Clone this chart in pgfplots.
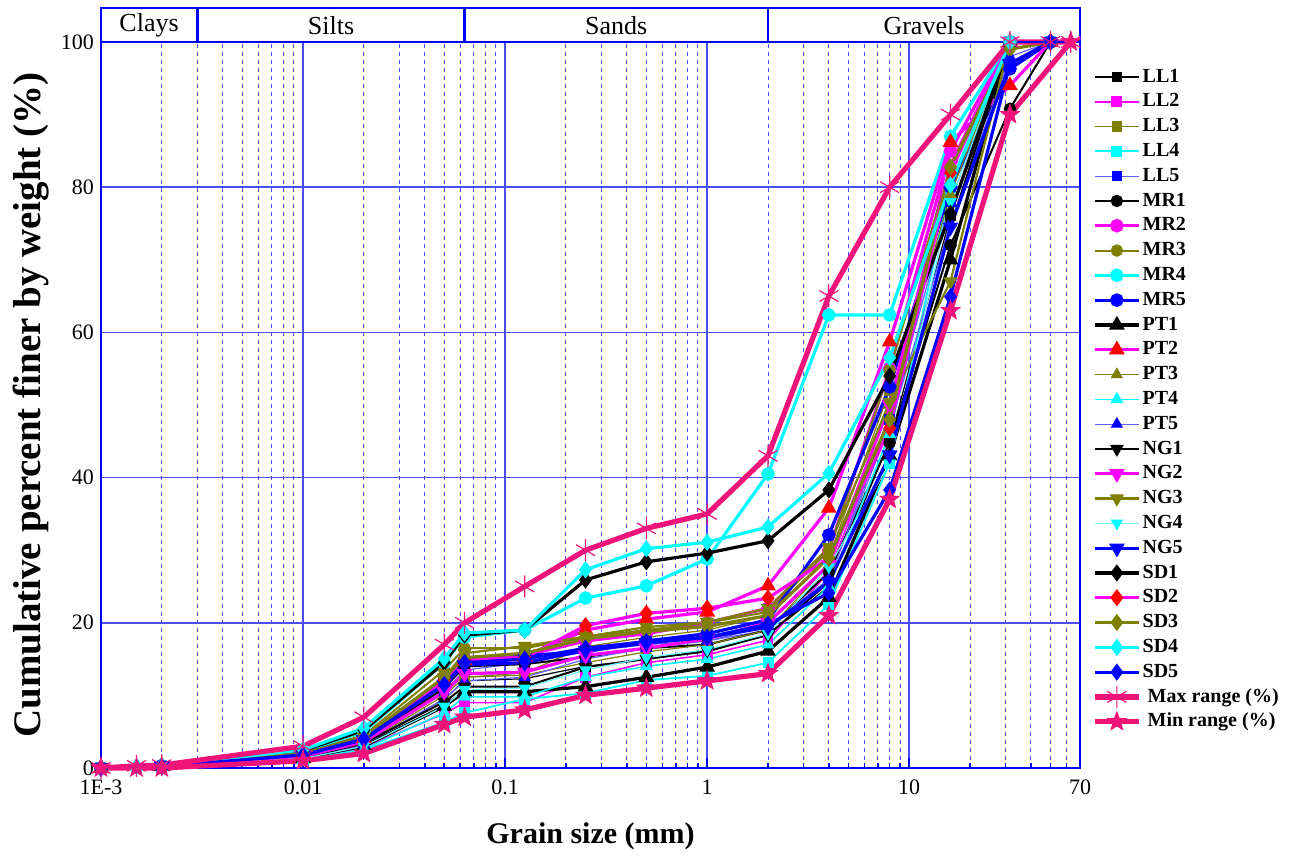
\documentclass[border=0pt]{standalone}
\usepackage{fontspec}
\setmainfont{Liberation Serif}
\usepackage{pgfplots}
\pgfplotsset{compat=1.18}
\definecolor{olv}{HTML}{808000}
\definecolor{cyn}{HTML}{00FFFF}
\definecolor{mag}{HTML}{FF00FF}
\definecolor{blu}{HTML}{0000FF}
\definecolor{rd}{HTML}{FF0000}
\definecolor{rng}{HTML}{F0147A}
\definecolor{grd}{HTML}{4B4BFF}
\definecolor{lblue}{HTML}{6060FF}
\definecolor{lcyan}{HTML}{70FFFF}

% filled five-point star
\pgfdeclareplotmark{fstar}{%
  \pgfpathmoveto{\pgfpointpolar{90}{\pgfplotmarksize}}%
  \pgfpathlineto{\pgfpointpolar{126}{0.42\pgfplotmarksize}}%
  \pgfpathlineto{\pgfpointpolar{162}{\pgfplotmarksize}}%
  \pgfpathlineto{\pgfpointpolar{198}{0.42\pgfplotmarksize}}%
  \pgfpathlineto{\pgfpointpolar{234}{\pgfplotmarksize}}%
  \pgfpathlineto{\pgfpointpolar{270}{0.42\pgfplotmarksize}}%
  \pgfpathlineto{\pgfpointpolar{306}{\pgfplotmarksize}}%
  \pgfpathlineto{\pgfpointpolar{342}{0.42\pgfplotmarksize}}%
  \pgfpathlineto{\pgfpointpolar{18}{\pgfplotmarksize}}%
  \pgfpathlineto{\pgfpointpolar{54}{0.42\pgfplotmarksize}}%
  \pgfpathclose\pgfusepathqfillstroke}

\begin{document}
\begin{tikzpicture}
\begin{axis}[
  scale only axis, width=489.5pt, height=363pt,
  xmode=log, xmin=0.001, xmax=70, ymin=0, ymax=100,
  clip=false,
  xtick={0.001,0.01,0.1,1,10,70},
  xticklabels={1E-3,0.01,0.1,1,10,70},
  minor xtick={0.002,0.003,0.004,0.005,0.006,0.007,0.008,0.009,
    0.02,0.03,0.04,0.05,0.06,0.07,0.08,0.09,
    0.2,0.3,0.4,0.5,0.6,0.7,0.8,0.9,
    2,3,4,5,6,7,8,9,20,30,40,50,60},
  ytick={0,20,40,60,80,100},
  xmajorgrids, xminorgrids, ymajorgrids,
  major grid style={grd, line width=0.85pt},
  minor grid style={grd, line width=0.5pt, dash pattern=on 2pt off 2pt},
  axis line style={blu, line width=1.2pt},
  tick style={blu, line width=0.8pt},
  major tick length=5pt, minor tick length=2.5pt,
  tick align=inside, tick pos=left,
  ytick style={draw=none},
  ticklabel style={font=\fontsize{11}{11}\selectfont},
  xticklabel style={yshift=-2.5pt},
  /pgf/number format/assume math mode=true,
  xlabel={\bfseries Grain size (mm)},
  ylabel={\bfseries Cumulative percent finer by weight (\%)},
  xlabel style={font=\fontsize{15}{15}\selectfont, yshift=-7pt},
  ylabel style={font=\fontsize{19.5}{19.5}\selectfont, yshift=-1pt},
  legend style={at={(1.006,0.975)}, anchor=north west, draw=none, fill=none,
    font=\fontsize{10}{10}\selectfont\bfseries, row sep=0pt,
    nodes={inner sep=0.6pt, text height=8.2pt, text depth=3pt}},
  legend cell align=left,
  legend image code/.code={\draw[mark repeat=2, mark phase=2]
    plot coordinates {(0pt,0pt) (11pt,0pt) (22pt,0pt)};},
]
% LL series
\addplot[black, line width=0.6pt, mark=square*, mark size=2.3pt, mark options={solid}] coordinates {
(0.001,0) (0.002,0.2) (0.01,1.5) (0.02,3.2) (0.05,9.5) (0.063,12) (0.125,12.3) (0.25,14) (0.5,15) (1,16) (2,18.3) (4,25) (8,45) (16,76) (31.5,100) (50,100)};
\addlegendentry{LL1}
\addplot[mag, line width=0.8pt, mark=square*, mark size=2.3pt] coordinates {
(0.001,0) (0.002,0.2) (0.01,1.2) (0.02,2.8) (0.05,7.5) (0.063,9) (0.125,9) (0.25,12.5) (0.5,14.5) (1,15.6) (2,17.6) (4,27) (8,48) (16,85) (31.5,100) (50,100)};
\addlegendentry{LL2}
\addplot[olv, line width=0.6pt, mark=square*, mark size=2.3pt] coordinates {
(0.001,0) (0.002,0.2) (0.01,1.8) (0.02,3.8) (0.05,11) (0.063,12.5) (0.125,13.1) (0.25,16.7) (0.5,18) (1,19) (2,21) (4,29) (8,52) (16,80) (31.5,100) (50,100)};
\addlegendentry{LL3}
\addplot[cyn, line width=0.9pt, mark=square*, mark size=2.3pt] coordinates {
(0.001,0) (0.002,0.1) (0.01,1.0) (0.02,2.5) (0.05,6.3) (0.063,7.6) (0.125,9.5) (0.25,10.3) (0.5,12.1) (1,12.7) (2,14.5) (4,22.5) (8,42) (16,80) (31.5,100) (50,100)};
\addlegendentry{LL4}
\addplot[lblue, line width=0.6pt, mark=square*, mark size=2.3pt, mark options={blu}] coordinates {
(0.001,0) (0.002,0.2) (0.01,1.6) (0.02,3.5) (0.05,10.5) (0.063,13.5) (0.125,14.5) (0.25,16) (0.5,17) (1,17.5) (2,19) (4,26) (8,48) (16,78) (31.5,100) (50,100)};
\addlegendentry{LL5}
% MR series
\addplot[black, line width=1.0pt, mark=*, mark size=2.6pt] coordinates {
(0.001,0) (0.002,0.2) (0.01,1.7) (0.02,3.6) (0.05,11) (0.063,14) (0.125,14.3) (0.25,15.3) (0.5,16.5) (1,17) (2,19) (4,27) (8,44.8) (16,72) (31.5,90.8) (50,100)};
\addlegendentry{MR1}
\addplot[mag, line width=1.6pt, mark=*, mark size=2.6pt] coordinates {
(0.001,0) (0.002,0.3) (0.01,1.9) (0.02,4) (0.05,12) (0.063,15) (0.125,15.5) (0.25,17.5) (0.5,18.5) (1,20) (2,22) (4,30) (8,55) (16,85) (31.5,100) (50,100)};
\addlegendentry{MR2}
\addplot[olv, line width=1.0pt, mark=*, mark size=2.6pt] coordinates {
(0.001,0) (0.002,0.3) (0.01,2.2) (0.02,4.5) (0.05,13.5) (0.063,16.5) (0.125,16.5) (0.25,18) (0.5,19) (1,20) (2,21.5) (4,30) (8,54.8) (16,82.8) (31.5,100) (50,100)};
\addlegendentry{MR3}
\addplot[cyn, line width=1.6pt, mark=*, mark size=2.6pt] coordinates {
(0.001,0) (0.002,0.3) (0.01,2.3) (0.02,5) (0.05,14.5) (0.063,18) (0.125,19) (0.25,23.4) (0.5,25.1) (1,28.8) (2,40.5) (4,62.4) (8,62.4) (16,87) (31.5,100) (50,100)};
\addlegendentry{MR4}
\addplot[blu, line width=1.6pt, mark=*, mark size=2.6pt] coordinates {
(0.001,0) (0.002,0.3) (0.01,2.0) (0.02,4.2) (0.05,12) (0.063,14.8) (0.125,15.5) (0.25,16) (0.5,17.5) (1,18.5) (2,20.4) (4,32.1) (8,52.5) (16,80) (31.5,96.3) (50,100)};
\addlegendentry{MR5}
% PT series
\addplot[black, line width=1.6pt, mark=triangle*, mark size=3pt] coordinates {
(0.001,0) (0.002,0.2) (0.01,1.3) (0.02,3) (0.05,8.5) (0.063,10.5) (0.125,10.5) (0.25,11.2) (0.5,12.5) (1,13.9) (2,16.1) (4,23.5) (8,43) (16,70) (31.5,100) (50,100)};
\addlegendentry{PT1}
\addplot[mag, line width=1.6pt, mark=triangle*, mark size=3pt, mark options={rd}] coordinates {
(0.001,0) (0.002,0.3) (0.01,1.9) (0.02,4.1) (0.05,12) (0.063,14.8) (0.125,15.3) (0.25,19) (0.5,20.5) (1,21.5) (2,25.1) (4,35.8) (8,58.7) (16,86.2) (31.5,94) (50,100)};
\addlegendentry{PT2}
\addplot[olv, line width=0.6pt, mark=triangle*, mark size=3pt] coordinates {
(0.001,0) (0.002,0.2) (0.01,1.5) (0.02,3.3) (0.05,10) (0.063,12.5) (0.125,12.8) (0.25,14.5) (0.5,16) (1,17) (2,19) (4,28) (8,50) (16,79) (31.5,100) (50,100)};
\addlegendentry{PT3}
\addplot[cyn, line width=0.8pt, mark=triangle*, mark size=3pt] coordinates {
(0.001,0) (0.0015,0.1) (0.002,0.2) (0.01,1.1) (0.02,2.6) (0.05,7.6) (0.063,9.8) (0.125,9.8) (0.25,12.5) (0.5,14) (1,15) (2,17) (4,25) (8,46) (16,82) (31.5,100) (50,100)};
\addlegendentry{PT4}
\addplot[lblue, line width=0.6pt, mark=triangle*, mark size=3pt, mark options={blu}] coordinates {
(0.001,0) (0.002,0.2) (0.01,1.4) (0.02,3.2) (0.05,9.5) (0.063,12) (0.125,12.5) (0.25,15) (0.5,16.5) (1,17.5) (2,19.5) (4,26) (8,47) (16,75) (31.5,98) (50,100)};
\addlegendentry{PT5}
% NG series
\addplot[black, line width=1.0pt, mark=triangle*, mark size=3pt, mark options={rotate=180}] coordinates {
(0.001,0) (0.002,0.2) (0.01,1.4) (0.02,3.4) (0.05,9.1) (0.063,11.2) (0.125,11.2) (0.25,13.9) (0.5,15) (1,16.2) (2,18.3) (4,25.6) (8,43.1) (16,74.5) (31.5,100) (50,100)};
\addlegendentry{NG1}
\addplot[mag, line width=1.6pt, mark=triangle*, mark size=3pt, mark options={rotate=180}] coordinates {
(0.001,0) (0.002,0.2) (0.01,1.6) (0.02,3.6) (0.05,10.5) (0.063,13) (0.125,13.2) (0.25,15.5) (0.5,16.5) (1,17.8) (2,20) (4,28) (8,50) (16,83) (31.5,100) (50,100)};
\addlegendentry{NG2}
\addplot[olv, line width=1.1pt, mark=triangle*, mark size=3pt, mark options={rotate=180}] coordinates {
(0.001,0) (0.002,0.3) (0.01,2.0) (0.02,4.3) (0.05,12.5) (0.063,15.8) (0.125,16.8) (0.25,18.1) (0.5,19.4) (1,20.1) (2,22) (4,30.4) (8,50.4) (16,67) (31.5,100) (50,100)};
\addlegendentry{NG3}
\addplot[lcyan, line width=0.6pt, mark=triangle*, mark size=3pt, mark options={cyn, rotate=180}] coordinates {
(0.001,0) (0.002,0.2) (0.01,1.3) (0.02,3) (0.05,8.5) (0.063,10.8) (0.125,11) (0.25,13.5) (0.5,15.2) (1,16.3) (2,18.5) (4,27.7) (8,42) (16,78) (31.5,100) (50,100)};
\addlegendentry{NG4}
\addplot[blu, line width=1.6pt, mark=triangle*, mark size=3pt, mark options={rotate=180}] coordinates {
(0.001,0) (0.002,0.3) (0.01,1.8) (0.02,3.9) (0.05,11.5) (0.063,14.2) (0.125,14.5) (0.25,16.2) (0.5,17.2) (1,18) (2,19.4) (4,25.6) (8,43.1) (16,74.5) (31.5,97) (50,100)};
\addlegendentry{NG5}
% SD series
\addplot[black, line width=1.6pt, mark=diamond*, mark size=3pt] coordinates {
(0.001,0) (0.002,0.3) (0.01,2.4) (0.02,5.2) (0.05,14.5) (0.063,18.3) (0.125,19) (0.25,25.9) (0.5,28.4) (1,29.6) (2,31.3) (4,38.3) (8,54) (16,76.4) (31.5,100) (50,100)};
\addlegendentry{SD1}
\addplot[mag, line width=1.6pt, mark=diamond*, mark size=3pt, mark options={rd}] coordinates {
(0.001,0) (0.002,0.3) (0.01,1.8) (0.02,4.1) (0.05,12.1) (0.063,15) (0.125,15.2) (0.25,19.6) (0.5,21.3) (1,22) (2,23.4) (4,28.9) (8,46.8) (16,82) (31.5,100) (50,100)};
\addlegendentry{SD2}
\addplot[olv, line width=1.6pt, mark=diamond*, mark size=3pt] coordinates {
(0.001,0) (0.002,0.3) (0.01,2.0) (0.02,4.2) (0.05,12.5) (0.063,15.2) (0.125,15.8) (0.25,17.8) (0.5,18.8) (1,19.5) (2,21) (4,29) (8,48) (16,82.8) (31.5,99) (50,100)};
\addlegendentry{SD3}
\addplot[cyn, line width=1.6pt, mark=diamond*, mark size=3pt] coordinates {
(0.001,0) (0.0015,0.2) (0.002,0.3) (0.01,2.5) (0.02,5.5) (0.05,15.1) (0.063,18.6) (0.125,19) (0.25,27.3) (0.5,30.2) (1,31.1) (2,33.2) (4,40.6) (8,56.5) (16,80.3) (31.5,100) (50,100)};
\addlegendentry{SD4}
\addplot[blu, line width=1.6pt, mark=diamond*, mark size=3pt] coordinates {
(0.001,0) (0.002,0.2) (0.01,1.8) (0.02,4) (0.05,11.5) (0.063,14.5) (0.125,15) (0.25,16.5) (0.5,17.4) (1,18) (2,19.8) (4,24.1) (8,38.3) (16,64.9) (31.5,97) (50,100)};
\addlegendentry{SD5}
% envelope
\addplot[rng, line width=2.6pt, mark=asterisk, mark size=5.5pt, mark options={line width=0.6pt}] coordinates {
(0.001,0) (0.0015,0.3) (0.002,0.4) (0.01,3) (0.02,7) (0.05,17) (0.063,20) (0.125,25) (0.25,30) (0.5,33) (1,35) (2,43) (4,65) (8,80) (16,90) (31.5,100) (50,100) (63,100)};
\addlegendentry{\ Max range (\%)}
\addplot[rng, line width=2.6pt, mark=fstar, mark size=5pt, mark options={line width=0.4pt}] coordinates {
(0.001,0) (0.0015,0) (0.002,0) (0.01,1) (0.02,2) (0.05,6) (0.063,7) (0.125,8) (0.25,10) (0.5,11) (1,12) (2,13) (4,21) (8,37) (16,63) (31.5,90) (63,100)};
\addlegendentry{\ Min range (\%)}
% size-class band above the plot
\draw[blu, line width=1.2pt] (axis cs:0.001,100) rectangle (axis cs:70,104.7);
\draw[blu, line width=1.2pt] (axis cs:0.003,100) -- (axis cs:0.003,104.7);
\draw[blu, line width=1.2pt] (axis cs:0.063,100) -- (axis cs:0.063,104.7);
\draw[blu, line width=1.2pt] (axis cs:2,100) -- (axis cs:2,104.7);
\node[font=\fontsize{13}{13}\selectfont] at (axis cs:0.00173,102.3) {Clays};
\node[font=\fontsize{13}{13}\selectfont] at (axis cs:0.01375,102.3) {Silts};
\node[font=\fontsize{13}{13}\selectfont] at (axis cs:0.355,102.3) {Sands};
\node[font=\fontsize{13}{13}\selectfont] at (axis cs:11.83,102.3) {Gravels};
\coordinate (SW) at (rel axis cs:0,0);
\coordinate (NE) at (rel axis cs:1,1);
\end{axis}
\path (SW) ++(-50.5pt,-42.5pt);
\path (NE) ++(108pt,21pt);
\end{tikzpicture}
\end{document}
